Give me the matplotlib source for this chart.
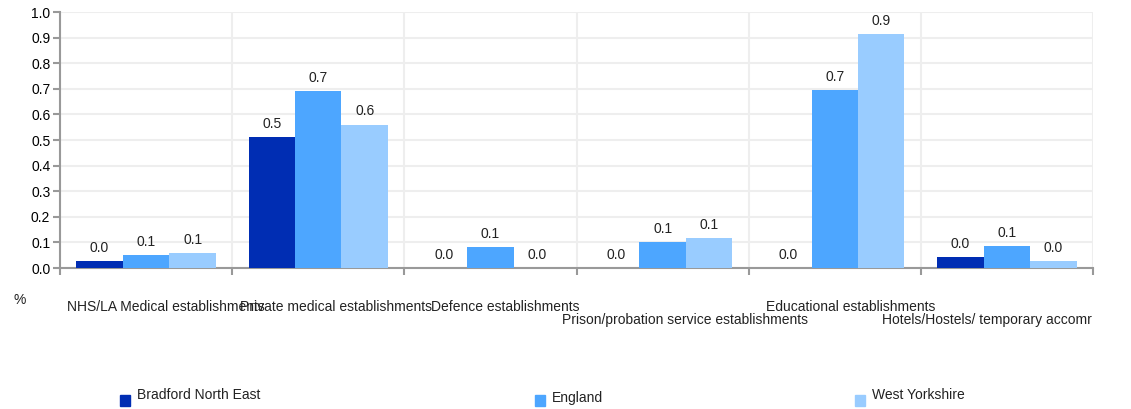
import numpy as np
import matplotlib
matplotlib.use("Agg")
import matplotlib.pyplot as plt
from matplotlib.patches import Rectangle

plt.rcParams['font.family'] = ['Liberation Sans', 'DejaVu Sans']

categories = ["NHS/LA Medical establishments", "Private medical establishments",
              "Defence establishments", "Prison/probation service establishments",
              "Educational establishments", "Hotels/Hostels/ temporary accomr"]
series = ["Bradford North East", "England", "West Yorkshire"]
bradford = [0.027, 0.51, 0.0, 0.0, 0.0, 0.043]
england = [0.05, 0.69, 0.082, 0.10, 0.695, 0.086]
west_yorks = [0.058, 0.56, 0.0, 0.117, 0.914, 0.027]
colors = ["#002db3", "#4da6ff", "#99ccff"]

fig = plt.figure(figsize=(11.31, 4.09), dpi=100)
ax = fig.add_axes([60 / 1131, 1 - 268 / 409, 1033 / 1131, 256 / 409])

x = np.arange(len(categories))
width = 0.27
for i, (vals, col) in enumerate(zip([bradford, england, west_yorks], colors)):
    pos = x + (i - 1) * width
    ax.bar(pos, vals, width=width, color=col, zorder=3)
    for p, v in zip(pos, vals):
        ax.text(p, v + 0.025, f"{v:.1f}", ha="center", va="bottom", fontsize=10, color="#222222")

ax.set_xlim(-0.5, len(categories) - 0.5)
ax.set_ylim(0, 1.0)
ax.set_yticks(np.arange(0, 1.01, 0.1))
ax.set_yticklabels([f"{t:.1f}" for t in np.arange(0, 1.01, 0.1)], fontsize=10)
ax.set_xticks(np.arange(-0.5, len(categories), 1.0))
ax.set_xticklabels([])
ax.grid(axis="y", color="#eeeeee", lw=1.5, zorder=0)
ax.grid(axis="x", color="#eeeeee", lw=1.5, zorder=0)
for s in ["top", "right"]:
    ax.spines[s].set_visible(False)
for s in ["left", "bottom"]:
    ax.spines[s].set_color("#999999")
    ax.spines[s].set_linewidth(1.5)
ax.tick_params(axis="y", length=5, color="#999999", width=1.5, pad=2)
ax.tick_params(axis="x", length=5, color="#999999", width=1.5)

# category labels below the axis, staggered like the original
label_shift = [20, 18, 15, 22, 16, -20]
for i, lab in enumerate(categories):
    xd = ax.transData.transform((i, 0))[0] + label_shift[i]
    yp = 320 if i in (3, 5) else 307
    fig.text(xd / 1131, 1 - yp / 409, lab, ha="center", va="center", fontsize=10, color="#222222")

fig.text(20 / 1131, 1 - 300 / 409, "%", ha="center", va="center", fontsize=10, color="#222222")

# legend
leg_x = [120, 535, 855]
leg_y = [395, 398, 395]
for lx, ly, name, col in zip(leg_x, leg_y, series, colors):
    fig.patches.append(Rectangle((lx / 1131, 1 - 406 / 409), 10 / 1131, 11 / 409,
                                 transform=fig.transFigure, color=col))
    fig.text((lx + 17) / 1131, 1 - ly / 409, name, ha="left", va="center", fontsize=10, color="#222222")

fig.savefig("out.png", dpi=100)
